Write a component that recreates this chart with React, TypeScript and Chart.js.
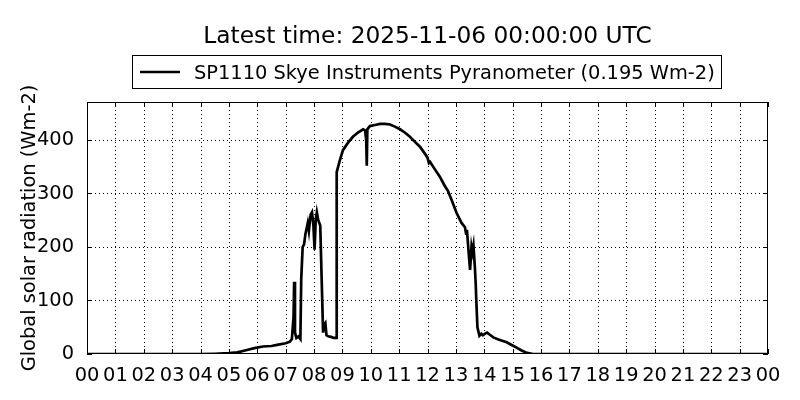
import React, { useEffect, useRef } from "react";
import { Chart, registerables } from "chart.js";

Chart.register(...registerables);

const TITLE = "Latest time: 2025-11-06 00:00:00 UTC";
const SERIES_LABEL = "SP1110 Skye Instruments Pyranometer (0.195 Wm-2)";
const Y_TITLE = "Global solar radiation (Wm-2)";

// time of day in hours (UTC)
const hours = [
  0, 4.0, 4.5, 5.0, 5.3, 5.6, 5.9, 6.2, 6.5, 6.7, 7.0, 7.15, 7.22, 7.28, 7.3, 7.33, 7.38, 7.45, 7.52,
  7.55, 7.6, 7.65, 7.7, 7.78, 7.82, 7.88, 7.93, 7.98, 8.02, 8.06, 8.1, 8.15, 8.22, 8.28, 8.32, 8.36,
  8.4, 8.44, 8.5, 8.6, 8.7, 8.78, 8.8, 8.9, 9.02, 9.2, 9.37, 9.55, 9.73, 9.8, 9.84, 9.86, 9.88, 9.97,
  10.15, 10.33, 10.5, 10.68, 10.85, 11.03, 11.2, 11.38, 11.55, 11.74, 11.9, 12.0, 12.05, 12.09, 12.25,
  12.44, 12.6, 12.72, 12.85, 13.03, 13.2, 13.32, 13.36, 13.39, 13.45, 13.5, 13.55, 13.58, 13.62, 13.67,
  13.7, 13.72, 13.76, 13.83, 13.9, 13.95, 14.03, 14.1, 14.2, 14.32, 14.5, 14.79, 15.0, 15.14, 15.3,
  15.5, 15.72, 24,
];
// global solar radiation (Wm-2)
const radiation = [
  0, 0, 0.5, 1.5, 3, 7, 11, 14, 15, 17, 20, 23, 28, 70, 135, 40, 30, 33, 28,
  140, 200, 205, 225, 245, 230, 260, 265, 240, 195, 250, 265, 250, 240, 120, 40, 55,
  58, 35, 33, 32, 30, 30, 340, 360, 381, 395, 406, 414, 420, 418, 400, 352, 420, 426,
  428, 430, 430, 429, 425, 420, 414, 406, 397, 387, 375, 367, 357, 359, 346,
  331, 315, 305, 288, 263, 245, 237, 225, 232, 190, 157, 200, 190, 203, 162,
  130, 100, 50, 34, 38, 35, 38, 40, 36, 31, 27, 22, 16, 12, 7,
  2, 0, 0,
];
const yTicks = [0, 100, 200, 300, 400];
const xTickHours = Array.from({ length: 25 }, (_, i) => i);

const FONT = "'DejaVu Sans', sans-serif";
const LABEL_SIZE = 19.4;

const mplPlugin = {
  id: "mplStyle",
  beforeDatasetsDraw(chart: any) {
    const { ctx, chartArea: a, scales } = chart;
    const x = scales.x;
    const y = scales.y;
    ctx.save();
    ctx.strokeStyle = "#000";
    ctx.lineWidth = 1;
    ctx.setLineDash([1, 3]);
    for (const h of xTickHours) {
      if (h === 0 || h === 24) continue;
      const px = Math.round(x.getPixelForValue(h)) + 0.5;
      ctx.beginPath();
      ctx.moveTo(px, a.top);
      ctx.lineTo(px, a.bottom);
      ctx.stroke();
    }
    for (const v of yTicks) {
      if (v === 0) continue;
      const py = Math.round(y.getPixelForValue(v)) + 0.5;
      ctx.beginPath();
      ctx.moveTo(a.left, py);
      ctx.lineTo(a.right, py);
      ctx.stroke();
    }
    ctx.restore();
  },
  afterDraw(chart: any) {
    const { ctx, chartArea: a, scales } = chart;
    const x = scales.x;
    const y = scales.y;
    ctx.save();
    ctx.strokeStyle = "#000";
    ctx.fillStyle = "#000";
    ctx.lineWidth = 1;
    ctx.setLineDash([]);
    const tl = 5;
    const L = Math.round(a.left);
    const R = Math.round(a.right);
    const T = Math.round(a.top);
    const B = Math.round(a.bottom);
    for (const h of xTickHours) {
      const px = Math.round(x.getPixelForValue(h));
      ctx.fillRect(px, B - tl, 1, tl);
      ctx.fillRect(px, T, 1, tl);
    }
    for (const v of yTicks) {
      const py = Math.round(y.getPixelForValue(v));
      ctx.fillRect(L, py, tl, 1);
      ctx.fillRect(R - tl, py, tl, 1);
    }

    // axes frame
    ctx.fillRect(L, T, R - L, 1);
    ctx.fillRect(L, B - 1, R - L, 1);
    ctx.fillRect(L, T, 1, B - T);
    ctx.fillRect(R - 1, T, 1, B - T);

    // title
    ctx.font = `23.3px ${FONT}`;
    ctx.textAlign = "center";
    ctx.textBaseline = "alphabetic";
    ctx.fillText(TITLE, (a.left + a.right) / 2, 42.5);

    // legend
    ctx.fillStyle = "#fff";
    ctx.fillRect(132, 55, 590, 34);
    ctx.fillStyle = "#000";
    ctx.fillRect(132, 55, 590, 1);
    ctx.fillRect(132, 88, 590, 1);
    ctx.fillRect(132, 55, 1, 34);
    ctx.fillRect(721, 55, 1, 34);
    ctx.lineWidth = 2.7;
    ctx.beginPath();
    ctx.moveTo(140, 72);
    ctx.lineTo(180, 72);
    ctx.stroke();
    ctx.font = `${LABEL_SIZE}px ${FONT}`;
    ctx.textAlign = "left";
    ctx.fillText(SERIES_LABEL, 194, 79);

    // y title
    ctx.translate(35, (a.top + a.bottom) / 2);
    ctx.rotate(-Math.PI / 2);
    ctx.font = `${LABEL_SIZE}px ${FONT}`;
    ctx.textAlign = "center";
    ctx.textBaseline = "alphabetic";
    ctx.fillText(Y_TITLE, 0, 0);
    ctx.restore();
  },
};

export default function App() {
  const ref = useRef<HTMLCanvasElement | null>(null);
  useEffect(() => {
    if (!ref.current) return;
    const chart = new Chart(ref.current, {
      type: "line",
      data: {
        datasets: [
          {
            label: SERIES_LABEL,
            data: hours.map((h, i) => ({ x: h, y: radiation[i] })),
            borderColor: "#000",
            borderWidth: 2.7,
            pointRadius: 0,
            tension: 0,
            fill: false,
          },
        ],
      },
      options: {
        animation: false,
        responsive: false,
        devicePixelRatio: 1,
        layout: { padding: { top: 102, right: 32, left: 0, bottom: 0 } },
        plugins: { legend: { display: false }, title: { display: false }, tooltip: { enabled: false } },
        scales: {
          x: {
            type: "linear",
            min: 0,
            max: 24,
            grid: { display: false },
            border: { display: false },
            afterFit: (s: any) => {
              s.height = 46;
            },
            afterBuildTicks: (s: any) => {
              s.ticks = xTickHours.map((v) => ({ value: v }));
            },
            ticks: {
              autoSkip: false,
              maxRotation: 0,
              padding: 2,
              color: "#000",
              font: { family: FONT, size: LABEL_SIZE },
              callback: (v: any) => String(Number(v) % 24).padStart(2, "0"),
            },
          },
          y: {
            type: "linear",
            min: 0,
            max: 471,
            grid: { display: false },
            border: { display: false },
            afterFit: (s: any) => {
              s.width = 87;
            },
            afterBuildTicks: (s: any) => {
              s.ticks = yTicks.map((v) => ({ value: v }));
            },
            ticks: {
              padding: 5,
              color: "#000",
              font: { family: FONT, size: LABEL_SIZE },
            },
          },
        },
      },
      plugins: [mplPlugin],
    });
    return () => chart.destroy();
  }, []);
  return (
    <div style={{ position: "absolute", left: 0, top: 0, width: 800, height: 400, background: "#fff" }}>
      <canvas ref={ref} width={800} height={400} />
    </div>
  );
}
